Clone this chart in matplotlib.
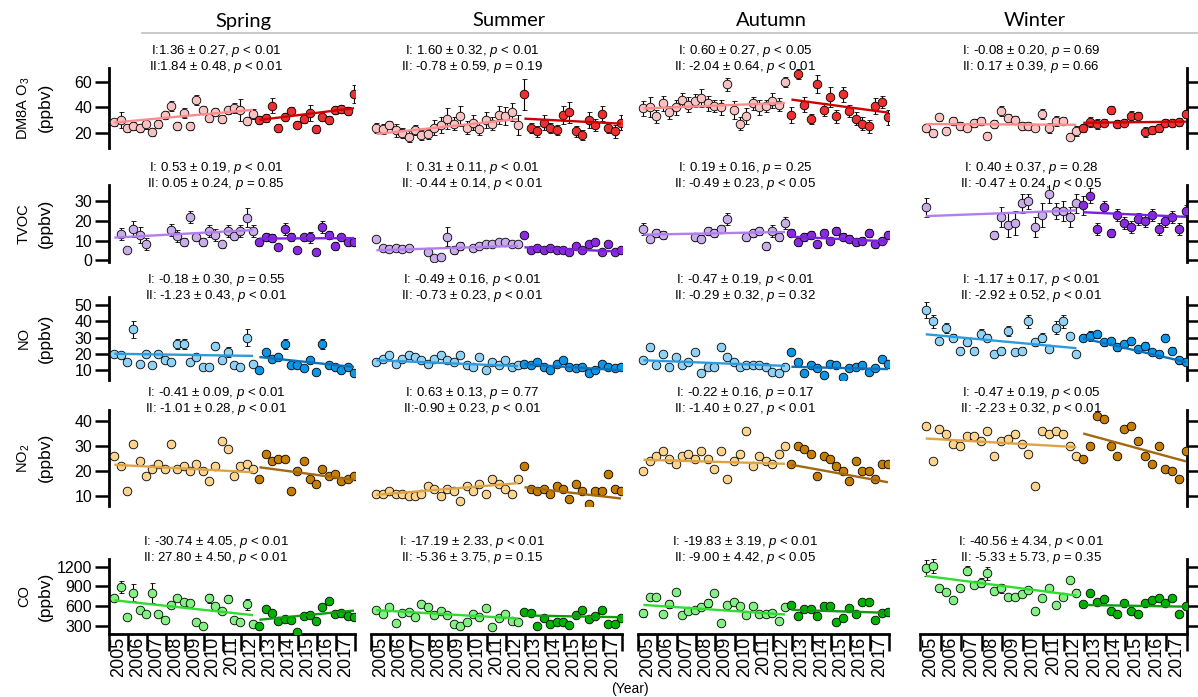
import numpy as np
import matplotlib.pyplot as plt
from matplotlib.lines import Line2D

plt.rcParams['font.family'] = ['Liberation Sans', 'DejaVu Sans']
plt.rcParams['mathtext.fontset'] = 'custom'
plt.rcParams['mathtext.rm'] = 'Liberation Sans'
plt.rcParams['mathtext.it'] = 'Liberation Sans:italic'

W, H = 1198, 697
nan = np.nan

seasons = ["Spring", "Summer", "Autumn", "Winter"]
years = np.arange(2005, 2019)
n_first = 23   # points in period I, the rest belong to period II

# ---- monthly means, 3 per season per year, 2005-2017 ----
o3_spring = [28.1, 30.0, 23.7, 25.5, 23.7, 26.8, 20.3, 26.8, 34.0, 41.2, 25.5, 35.2, 25.5, 45.6, 37.8, 31.5,
             36.0, 30.8, 37.8, 39.4, 37.8, 29.4, 34.7,
             30.0, 31.5, 41.2, 23.7, 32.5, 37.2, 26.3, 30.6, 35.4, 22.9, 32.0, 30.0, 37.8, 38.6, 36.8, 50.3]
o3_summer = [24, 23, 26, 22, 20, 17, 22, 18, 19, 24, 26, 31, 27, 33, 24, 28, 23, 30, 27, 34, 33, 36, 26,
             50, 24, 21, 28, 24, 22, 34, 36, 21, 18, 30, 26, 35, 24, 21, 28]
o3_autumn = [39, 40, 33, 43, 36, 40, 46, 42, 45, 47, 43, 41, 40, 58, 38, 27, 33, 43, 40, 41, 45, 42, 60,
             34, 66, 42, 31, 58, 38, 48, 33, 50, 37, 31, 27, 25, 41, 44, 32]
o3_winter = [23.5, 19.5, 32, 21.6, 29.4, 25.3, 24, 27.4, 29.2, 17.7, 26.8, 37, 31.8, 30, 25.3, 25.3, 24, 34.7,
             24, 29.4, 29.2, 17, 21.6,
             23.5, 28.6, 26.8, 28, 37.8, 26.8, 28, 33.4, 33.4, 20.3, 22.1, 23.5, 28, 27.4, 28.6, 34.7]

o3_spring_err = [3, 6, 3, 3, 3, 4, 3, 3, 3, 4, 3, 4, 3, 4, 3, 3, 3, 3, 3, 4, 9, 3, 4,
                 3, 3, 6, 3, 3, 3, 3, 3, 6, 3, 3, 3, 3, 3, 3, 7]
o3_summer_err = [4, 4, 3, 5, 4, 4, 4, 4, 4, 6, 6, 8, 5, 8, 5, 6, 5, 6, 5, 7, 7, 7, 8,
                 12, 4, 4, 6, 4, 4, 7, 8, 4, 4, 6, 5, 6, 4, 5, 6]
o3_autumn_err = [6, 8, 5, 6, 5, 6, 5, 6, 5, 7, 6, 5, 6, 5, 7, 5, 6, 5, 6, 5, 6, 5, 4,
                 6, 4, 6, 4, 7, 5, 8, 5, 6, 5, 5, 5, 5, 6, 5, 6]
o3_winter_err = [3, 3, 3, 3, 3, 3, 3, 3, 3, 3, 3, 4, 3, 3, 3, 3, 3, 4, 4, 4, 3, 3, 4,
                 3, 4, 4, 3, 3, 3, 3, 4, 3, 4, 3, 3, 3, 3, 3, 3]

tvoc_spring = [nan, 13.2, 5.1, 15.9, 12.8, 8.2, nan, nan, nan, 15.4, 12.5, 9.4, 21.9, 11.6, 9.4, 15, 12.8, 8,
               15, 12.5, 15, 21.7, 15,
               9.1, 12, 11.3, 6.5, 15.9, 12, 5.1, 11.6, 11.6, 4.3, 16.8, 12.8, 7.3, 11.6, 9.1, 9.4]
tvoc_summer = [11, 6, 5.5, 6, 5.5, 6, nan, nan, 4, 1, 1.5, 12, 5, 7, nan, 6, 7, 8, 8, 9, 9, 8, 8,
               13, 5, 6, 5, 6, 5, 5, 4, 7, 5, 8, 9, 4, 8, 4, 5]
tvoc_autumn = [16, 11, 14, 13, nan, nan, nan, nan, 12, 11, 15, 14, 16, 21, nan, nan, 12, 14, 15, 7, 15, 12, 19,
               14, 9, 12, 13, 8, 14, 10, 15, 12, 11, 9, 10, 14, 8, 10, 13]
tvoc_winter = [27, nan, nan, nan, nan, nan, nan, nan, nan, nan, 13, 22, 18, 19, 29, 30, 17, 23, 34, 25, 25,
               22, 29,
               28, 33, 16, 27, 14, 23, 19, 17, 21, 20, 23, 16, 20, 22, 16, 25]

tvoc_spring_err = [0, 3, 0, 4, 4, 3, 0, 0, 0, 3, 3, 2, 3, 2, 2, 3, 3, 2, 3, 2, 3, 5, 3,
                   2, 2, 2, 1, 3, 2, 1, 2, 3, 1, 3, 2, 2, 2, 2, 2]
tvoc_summer_err = [1, 1, 1, 1, 1, 1, 0, 0, 1, 1, 1, 5, 2, 2, 0, 1, 1, 1, 1, 1, 1, 1, 1,
                   1, 1, 1, 1, 1, 1, 1, 1, 1, 1, 1, 1, 1, 1, 1, 1]
tvoc_autumn_err = [3, 2, 2, 2, 0, 0, 0, 0, 2, 2, 2, 2, 2, 3, 0, 0, 2, 2, 2, 2, 3, 2, 3,
                   2, 2, 2, 2, 2, 2, 2, 2, 2, 2, 2, 2, 2, 2, 2, 2]
tvoc_winter_err = [5, 0, 0, 0, 0, 0, 0, 0, 0, 0, 2, 5, 6, 6, 5, 4, 5, 6, 5, 4, 5, 5, 5,
                   5, 4, 3, 3, 2, 3, 3, 3, 3, 3, 3, 3, 3, 3, 3, 3]

no_spring = [20, 19, 15, 35, 14, 20, 13, 20, 16, 15, 26, 26, 15, 18, 12, 12, 25, 16, 21, 13, 12, 30, 14,
             10, 21, 17, 18, 26, 13, 13, 11, 16, 9, 26, 13, 12, 10, 12, 8]
no_summer = [15, 17, 19, 14, 17, 19, 18, 16, 14, 17, 19, 16, 15, 19, 13, 12, 18, 10, 15, 13, 16, 12, 13,
             14, 13, 15, 12, 10, 14, 16, 12, 11, 12, 8, 10, 14, 12, 11, 12]
no_autumn = [16, 24, 13, 20, 12, 18, 13, 15, 21, 8, 12, 12, 24, 18, 15, 12, 13, 13, 13, 12, 9, 8, 12,
             21, 15, 8, 13, 11, 7, 14, 13, 6, 11, 12, 13, 9, 11, 17, 14]
no_winter = [47, 40, 28, 36, 30, 22, 27, 22, 32, 30, 20, 22, 34, 21, 22, 40, 27, 30, 23, 36, 40, 31, 20,
             30, 31, 32, 27, 28, 24, 26, 28, 23, 25, 21, 20, 30, 22, 16, 15]

no_spring_err = [2, 2, 1, 5, 1, 2, 1, 2, 1, 1, 3, 3, 1, 2, 1, 1, 2, 1, 3, 1, 1, 5, 1,
                 1, 2, 1, 2, 3, 1, 1, 1, 1, 1, 3, 1, 1, 1, 1, 1]
no_summer_err = [1, 1, 1, 1, 1, 1, 1, 1, 1, 1, 1, 1, 1, 1, 1, 1, 1, 1, 1, 1, 1, 1, 1,
                 1, 1, 1, 1, 1, 1, 1, 1, 1, 1, 1, 1, 1, 1, 1, 1]
no_autumn_err = [1, 2, 1, 2, 1, 1, 1, 1, 2, 1, 1, 1, 2, 1, 1, 1, 1, 1, 1, 1, 1, 1, 1,
                 2, 1, 1, 1, 1, 1, 1, 1, 1, 1, 1, 1, 1, 1, 1, 1]
no_winter_err = [5, 4, 2, 3, 2, 2, 2, 2, 3, 2, 2, 2, 3, 2, 2, 4, 2, 3, 2, 4, 4, 2, 2,
                 2, 3, 2, 2, 2, 2, 2, 2, 2, 2, 2, 2, 2, 2, 2, 2]

no2_spring = [26, 22, 12, 31, 24, 18, 21, 23, 21, 31, 21, 22, 20, 23, 20, 16, 22, 32, 29, 18, 22, 23, 21,
              17, 27, 24, 25, 25, 12, 20, 24, 17, 15, 21, 18, 19, 16, 17, 18]
no2_summer = [11, 11, 12, 11, 11, 10, 10, 11, 14, 13, 10, 13, 12, 8, 14, 12, 15, 11, 17, 15, 13, 11, 17,
              22, 13, 12, 13, 11, 14, 13, 9, 15, 12, 7, 12, 12, 19, 13, 12]
no2_autumn = [20, 24, 26, 28, 25, 23, 26, 27, 25, 28, 25, 21, 28, 17, 24, 27, 36, 22, 26, 24, 23, 27, 30,
              23, 30, 29, 27, 18, 26, 25, 22, 20, 16, 24, 20, 20, 17, 23, 23]
no2_winter = [38, 24, 37, 35, 31, 30, 34, 34, 32, 36, 26, 32, 33, 35, 31, 27, 14, 36, 35, 36, 35, 30, 26,
              25, 30, 42, 41, 30, 26, 37, 38, 32, 26, 23, 30, 21, 20, 17, 28]
no2_err = [1] * 39

co_spring = [720, 887, 432, 805, 543, 477, 805, 475, 390, 620, 720, 670, 645, 365, 300, 720, 605, 535, 715,
             390, 365, 630, 330,
             300, 553, 500, 380, 400, 390, 205, 446, 470, 380, 593, 684, 475, 500, 450, 430]
co_summer = [543, 482, 593, 350, 490, 515, 430, 634, 584, 467, 533, 467, 326, 300, 357, 482, 441, 568, 285,
             416, 482, 380, 357,
             513, 497, 300, 428, 336, 357, 357, 316, 467, 543, 400, 457, 543, 336, 326, 416]
co_autumn = [502, 735, 745, 482, 634, 820, 467, 533, 543, 584, 655, 797, 350, 619, 670, 604, 467, 604, 482,
             482, 497, 380, 584,
             619, 457, 553, 553, 447, 604, 604, 365, 428, 568, 482, 670, 670, 390, 497, 513]
co_winter = [1175, 1210, 872, 811, 694, 872, 1140, 922, 957, 1100, 831, 872, 745, 734, 780, 846, 532, 729,
             872, 620, 745, 998, 806,
             630, 806, 669, 709, 532, 477, 644, 532, 477, 644, 694, 729, 644, 719, 482, 603]

co_spring_err = [40, 90, 0, 130, 40, 0, 150, 0, 0, 0, 0, 0, 0, 0, 0, 70, 0, 0, 50, 0, 0, 80, 0,
                 0, 0, 0, 0, 0, 0, 0, 0, 0, 0, 0, 0, 0, 0, 0, 0]
co_summer_err = [30, 0, 0, 0, 0, 0, 0, 40, 0, 0, 0, 0, 0, 0, 0, 0, 0, 0, 0, 0, 0, 0, 0,
                 0, 0, 0, 0, 0, 0, 0, 0, 0, 0, 0, 0, 0, 0, 0, 0]
co_autumn_err = [60, 40, 0, 0, 60, 0, 0, 0, 0, 0, 60, 0, 0, 0, 0, 0, 0, 0, 0, 0, 0, 0, 0,
                 0, 0, 0, 0, 0, 0, 0, 0, 0, 0, 0, 0, 0, 0, 0, 0]
co_winter_err = [120, 100, 50, 0, 0, 0, 70, 0, 70, 100, 0, 70, 0, 0, 0, 50, 0, 0, 50, 0, 0, 40, 50,
                 0, 0, 0, 0, 0, 0, 0, 0, 0, 0, 0, 0, 0, 0, 0, 40]

# ---- regression slopes per year (slope, error, p) for period I and II ----
o3_trends = [(1.36, 0.27, "< 0.01", 1.84, 0.48, "< 0.01"),
             (1.60, 0.32, "< 0.01", -0.78, 0.59, "= 0.19"),
             (0.60, 0.27, "< 0.05", -2.04, 0.64, "< 0.01"),
             (-0.08, 0.20, "= 0.69", 0.17, 0.39, "= 0.66")]
tvoc_trends = [(0.53, 0.19, "< 0.01", 0.05, 0.24, "= 0.85"),
               (0.31, 0.11, "< 0.01", -0.44, 0.14, "< 0.01"),
               (0.19, 0.16, "= 0.25", -0.49, 0.23, "< 0.05"),
               (0.40, 0.37, "= 0.28", -0.47, 0.24, "< 0.05")]
no_trends = [(-0.18, 0.30, "= 0.55", -1.23, 0.43, "< 0.01"),
             (-0.49, 0.16, "< 0.01", -0.73, 0.23, "< 0.01"),
             (-0.47, 0.19, "< 0.01", -0.29, 0.32, "= 0.32"),
             (-1.17, 0.17, "< 0.01", -2.92, 0.52, "< 0.01")]
no2_trends = [(-0.41, 0.09, "< 0.01", -1.01, 0.28, "< 0.01"),
              (0.63, 0.13, "= 0.77", -0.90, 0.23, "< 0.01"),
              (-0.22, 0.16, "= 0.17", -1.40, 0.27, "< 0.01"),
              (-0.47, 0.19, "< 0.05", -2.23, 0.32, "< 0.01")]
co_trends = [(-30.74, 4.05, "< 0.01", 27.80, 4.50, "< 0.01"),
             (-17.19, 2.33, "< 0.01", -5.36, 3.75, "= 0.15"),
             (-19.83, 3.19, "< 0.01", -9.00, 4.42, "< 0.05"),
             (-40.56, 4.34, "< 0.01", -5.33, 5.73, "= 0.35")]

# fitted line value at the first month of each period
o3_starts = [(28, 30), (19, 31), (39, 46), (26.8, 27.8)]
tvoc_starts = [(11.5, 11), (5, 6.5), (13, 12), (22.5, 24.5)]
no_starts = [(20, 18), (16, 13.5), (16, 12), (32, 29.5)]
no2_starts = [(22.5, 21.5), (10.5, 13.5), (24.5, 22.5), (33, 35)]
co_starts = [(690, 395), (540, 460), (620, 545), (1060, 620)]

# labels written without a space after the colon
tight_labels = {(0, 0, 0), (0, 0, 1), (3, 1, 1)}

rows = [
    dict(name="DM8A O$_3$", vals=[o3_spring, o3_summer, o3_autumn, o3_winter],
         errs=[o3_spring_err, o3_summer_err, o3_autumn_err, o3_winter_err],
         trends=o3_trends, starts=o3_starts, ylim=(8, 71), yticks=[20, 40, 60],
         colors=("#f9c2c2", "#ee2f2f"), lines=("#ff8c8c", "#cc0000"), box=(67.7, 148.0)),
    dict(name="TVOC", vals=[tvoc_spring, tvoc_summer, tvoc_autumn, tvoc_winter],
         errs=[tvoc_spring_err, tvoc_summer_err, tvoc_autumn_err, tvoc_winter_err],
         trends=tvoc_trends, starts=tvoc_starts, ylim=(-1, 38.5), yticks=[0, 10, 20, 30],
         colors=("#c9ade8", "#8a2be2"), lines=("#b27df0", "#7a22dd"), box=(184.9, 262.0)),
    dict(name="NO", vals=[no_spring, no_summer, no_autumn, no_winter],
         errs=[no_spring_err, no_summer_err, no_autumn_err, no_winter_err],
         trends=no_trends, starts=no_starts, ylim=(4, 55), yticks=[10, 20, 30, 40, 50],
         colors=("#8fd2f6", "#0b96e8"), lines=("#2b9be0", "#0f6fb8"), box=(296.9, 379.75)),
    dict(name="NO$_2$", vals=[no2_spring, no2_summer, no2_autumn, no2_winter],
         errs=[no2_err, no2_err, no2_err, no2_err],
         trends=no2_trends, starts=no2_starts, ylim=(6, 44.5), yticks=[10, 20, 30, 40],
         colors=("#fcd48e", "#c77d00"), lines=("#dca445", "#a2680f"), box=(409.75, 506.0)),
    dict(name="CO", vals=[co_spring, co_summer, co_autumn, co_winter],
         errs=[co_spring_err, co_summer_err, co_autumn_err, co_winter_err],
         trends=co_trends, starts=co_starts, ylim=(180, 1320), yticks=[300, 600, 900, 1200],
         colors=("#82f082", "#00b300"), lines=("#2fdc2f", "#119a11"), box=(558.8, 633.9)),
]

# pixel extent of each season's time axis and centre of its trend text
col_px = [(109, 355), (371, 622), (638, 889), (920, 1187)]
text_cx = [216, 472, 745, 1031]
title_cx = [243, 509, 771, 1035]


def axesAt(x0, x1, top, bottom):
    '''Add axes spanning the given pixel box.'''
    return fig.add_axes([x0 / W, 1 - bottom / H, (x1 - x0) / W, (bottom - top) / H])


def drawPanel(ax, vals, errs, trend, starts, colors, lines):
    '''Monthly means with error bars and the two piecewise trend lines.'''
    x = 2005.28 + np.arange(len(vals)) / 3
    v = np.array(vals, float)
    e = np.array(errs, float)
    periods = (slice(0, n_first), slice(n_first, len(vals)))
    for k, sl in enumerate(periods):
        ax.errorbar(x[sl], v[sl], yerr=e[sl], fmt='o', ms=6.2, mfc=colors[k], mec='black', mew=0.6,
                    ecolor='black', elinewidth=0.8, capsize=1.8, capthick=0.8, zorder=3)
        xs = x[sl][[0, -1]]
        slope = trend[3 * k]
        ax.plot(xs, starts[k] + slope * (xs - xs[0]), color=lines[k], lw=1.7, zorder=4,
                solid_capstyle='butt')


fig = plt.figure(figsize=(W / 100, H / 100), dpi=100)

for r, row in enumerate(rows):
    top, bottom = row["box"]
    for c in range(4):
        ax = axesAt(col_px[c][0], col_px[c][1], top, bottom)
        drawPanel(ax, row["vals"][c], row["errs"][c], row["trends"][c], row["starts"][c],
                  row["colors"], row["lines"])
        ax.set_xlim(2005, 2018)
        ax.set_ylim(*row["ylim"])
        ax.patch.set_alpha(0)
        for side in ("top", "left", "right", "bottom"):
            ax.spines[side].set_visible(False)
        ax.set_yticks(row["yticks"])
        ax.tick_params(axis='y', direction='out', length=10, width=1.8, labelsize=11.5, pad=2)
        if c == 0:
            ax.spines["left"].set_visible(True)
            ax.spines["left"].set_linewidth(2)
        elif c == 3:
            ax.spines["right"].set_visible(True)
            ax.spines["right"].set_linewidth(2)
            ax.yaxis.tick_right()
            ax.tick_params(axis='y', labelright=False)
        else:
            ax.tick_params(axis='y', left=False, labelleft=False)

        if r == len(rows) - 1:
            ax.spines["bottom"].set_visible(True)
            ax.spines["bottom"].set_linewidth(2)
            ax.set_xticks(years)
            ax.set_xticklabels([])
            ax.set_xticks(years[:-1] + 0.5, minor=True)
            ax.set_xticklabels([str(y) for y in years[:-1]], minor=True, rotation=90)
            ax.tick_params(axis='x', which='major', direction='out', length=12, width=1.8)
            ax.tick_params(axis='x', which='minor', length=0, labelsize=13, pad=2)
        else:
            ax.set_xticks([])

        # trend statistics above the panel
        t = row["trends"][c]
        for k, tag in enumerate(("I:", "II:")):
            sep = "" if (r, c, k) in tight_labels else " "
            s = f"{tag}{sep}{t[3 * k]:.2f} ± {t[3 * k + 1]:.2f}, $p$ {t[3 * k + 2]}"
            fig.text(text_cx[c] / W, 1 - (top - 17 + 16.5 * k) / H, s, ha='center', va='center',
                     fontsize=9.5)

    # species name and unit along the left
    yc = 1 - (top + bottom) / 2 / H
    fig.text(24 / W, yc, row["name"], rotation=90, ha='center', va='center', fontsize=10.5)
    fig.text(45 / W, yc, "(ppbv)", rotation=90, ha='center', va='center', fontsize=12.5)

# season headings with a rule underneath
for c, name in enumerate(seasons):
    fig.text(title_cx[c] / W, 1 - 21 / H, name, ha='center', va='center', fontsize=14.5,
             family=['Lato', 'DejaVu Sans'])
fig.add_artist(Line2D([142 / W, 1.0], [1 - 33.3 / H, 1 - 33.3 / H], color='#c0c0c0', lw=1.2))

fig.text(630 / W, 1 - 689 / H, "(Year)", ha='center', va='center', fontsize=10)

fig.savefig("out.png", dpi=100)
